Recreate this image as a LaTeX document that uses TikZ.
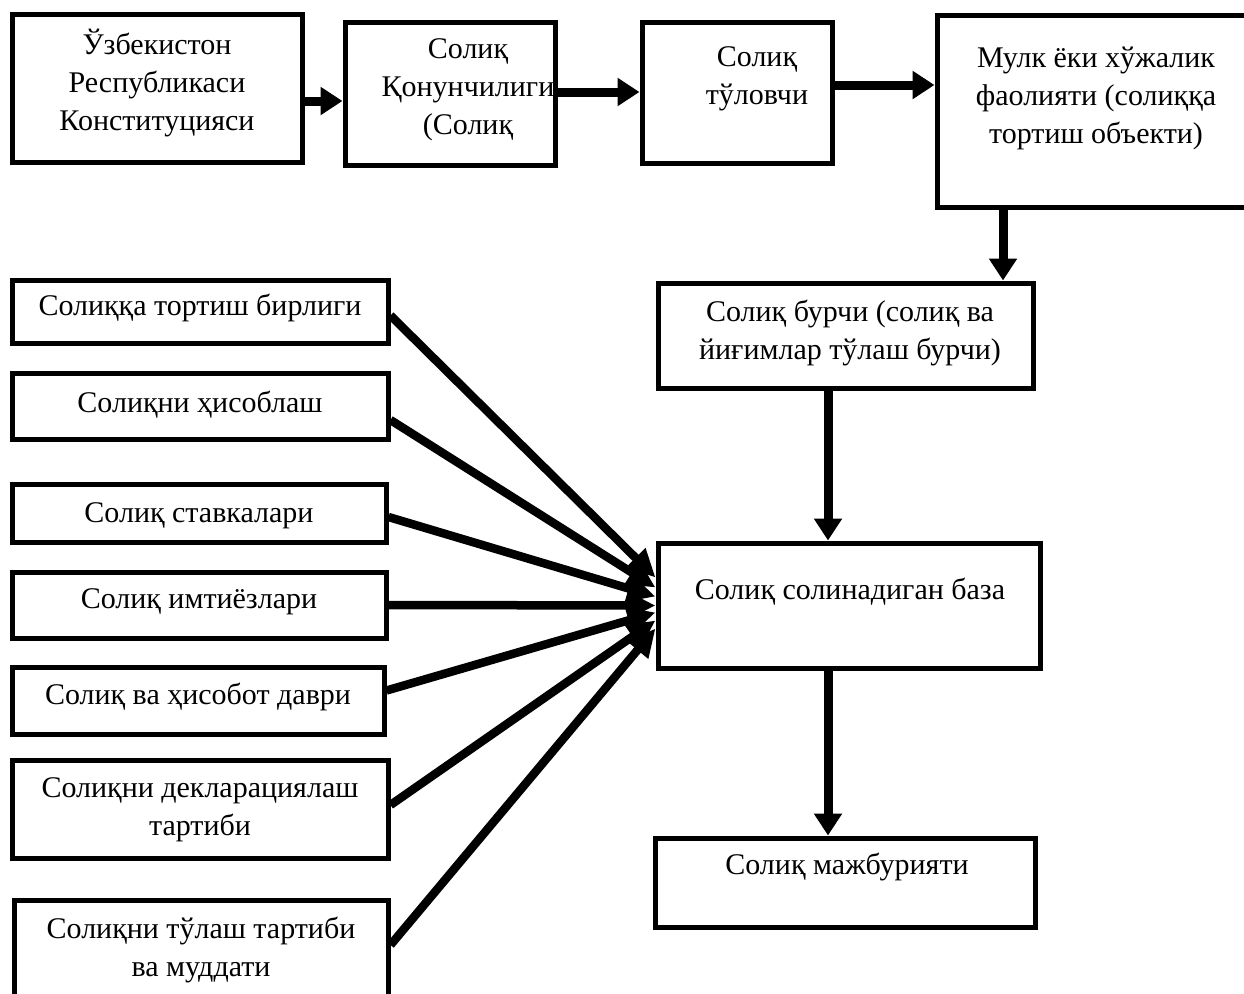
\documentclass[tikz,border=0pt]{standalone}
\usepackage{fontspec}
\setmainfont{Liberation Serif}
\usetikzlibrary{arrows.meta}
\tikzset{
  box/.style={draw, line width=5pt, inner sep=0pt},
  txt/.style={align=center, font=\fontsize{30}{38}\selectfont, inner sep=0pt},
  toparrow/.style={line width=9pt, -{Triangle[length=22pt,width=27pt]}},
  fanarrow/.style={line width=8.5pt, -{Triangle[length=28pt,width=26pt]}},
}
\begin{document}
\begin{tikzpicture}[x=1pt, y=-1pt]
\useasboundingbox (0,0) rectangle (1244,993);
\clip (0,0) rectangle (1244,993);
% top row
\node[box, minimum width=290pt, minimum height=148pt] (b1) at (157,88.5) {};
\node[txt] at (157,83) {Ўзбекистон\\Республикаси\\Конституцияси};
\node[box, minimum width=210pt, minimum height=143pt] (b2) at (450,93.5) {};
\node[txt] at (468,90) {Солиқ\\Қонунчилиги\\(Солиқ};
\node[box, minimum width=190pt, minimum height=141pt] (b3) at (737,92.5) {};
\node[txt] at (757,79) {Солиқ\\тўловчи};
\node[box, minimum width=330pt, minimum height=192pt] (b4) at (1102,111) {};
\node[txt] at (1096,98) {Мулк ёки хўжалик\\фаолияти (солиққа\\тортиш объекти)};
% right column
\node[box, minimum width=375pt, minimum height=105pt] (b5) at (845.5,335.5) {};
\node[txt] at (850,333) {Солиқ бурчи (солиқ ва\\йиғимлар тўлаш бурчи)};
\node[box, minimum width=382pt, minimum height=125pt] (b6) at (849,605.5) {};
\node[txt] at (850,592) {Солиқ солинадиган база};
\node[box, minimum width=380pt, minimum height=89pt] (b7) at (845,882.5) {};
\node[txt] at (847,867) {Солиқ мажбурияти};
% left column
\node[box, minimum width=376pt, minimum height=63pt] (l1) at (200,311.5) {};
\node[txt] at (200,308) {Солиққа тортиш бирлиги};
\node[box, minimum width=376pt, minimum height=66pt] (l2) at (200,406) {};
\node[txt] at (200,405) {Солиқни ҳисоблаш};
\node[box, minimum width=374pt, minimum height=58pt] (l3) at (199,513) {};
\node[txt] at (199,516) {Солиқ ставкалари};
\node[box, minimum width=374pt, minimum height=66pt] (l4) at (199,605) {};
\node[txt] at (199,602) {Солиқ имтиёзлари};
\node[box, minimum width=372pt, minimum height=67pt] (l5) at (198,700.5) {};
\node[txt] at (198,697) {Солиқ ва ҳисобот даври};
\node[box, minimum width=376pt, minimum height=98pt] (l6) at (200,809) {};
\node[txt] at (200,810) {Солиқни декларациялаш\\тартиби};
\node[box, minimum width=374pt, minimum height=110pt] (l7) at (201,955) {};
\node[txt] at (201,950) {Солиқни тўлаш тартиби\\ва муддати};
% connectors top row
\draw[toparrow] (b1.east |- 0,101) -- (b2.west |- 0,101);
\draw[toparrow] (b2.east |- 0,92) -- (b3.west |- 0,92);
\draw[toparrow] (b3.east |- 0,85) -- (b4.west |- 0,85);
\draw[toparrow] (b4.south -| 1003,0) -- (b5.north -| 1003,0);
\draw[toparrow] (b5.south -| 828,0) -- (b6.north -| 828,0);
\draw[toparrow] (b6.south -| 828,0) -- (b7.north -| 828,0);
% fan
\coordinate (e1) at ([yshift=28pt]b6.west);
\coordinate (e2) at ([yshift=18pt]b6.west);
\coordinate (e3) at ([yshift=9pt]b6.west);
\coordinate (e4) at (b6.west);
\coordinate (e5) at ([yshift=-7pt]b6.west);
\coordinate (e6) at ([yshift=-15pt]b6.west);
\coordinate (e7) at ([yshift=-23pt]b6.west);
\draw[fanarrow] ([yshift=-4pt]l1.east) -- (e1);
\draw[fanarrow] ([yshift=-14pt]l2.east) -- (e2);
\draw[fanarrow] ([yshift=-4pt]l3.east) -- (e3);
\draw[fanarrow] (l4.east) -- (e4);
\draw[fanarrow] ([yshift=10pt]l5.east) -- (e5);
\draw[fanarrow] ([yshift=4pt]l6.east) -- (e6);
\draw[fanarrow] ([yshift=10pt]l7.east) -- (e7);
\end{tikzpicture}
\end{document}
